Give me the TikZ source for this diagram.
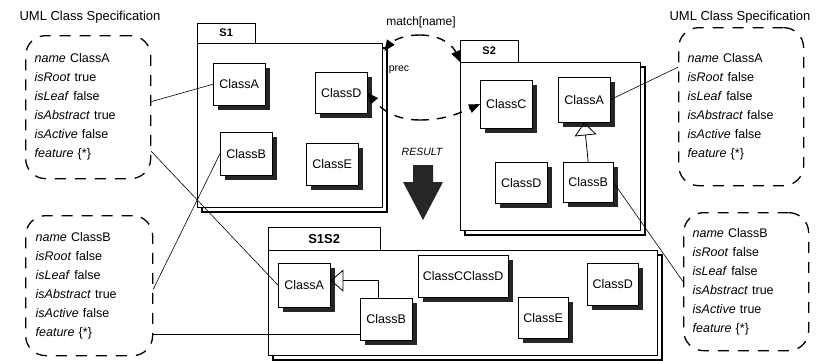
\documentclass[tikz,border=0pt]{standalone}
\usepackage{fontspec}
\setmainfont{Liberation Sans}
\usetikzlibrary{shadows,arrows.meta,calc}

\tikzset{
  cls/.style={draw, fill=white, anchor=north west, inner sep=1pt, minimum width=52pt, minimum height=42pt,
    font=\fontsize{12.5}{14}\selectfont, drop shadow={shadow xshift=5pt, shadow yshift=-5pt, fill=black!85, opacity=1}},
  pkgtab/.style={draw, fill=white, anchor=north west, minimum height=20pt, inner sep=1pt, font=\fontsize{11}{13}\selectfont\bfseries},
  pkgbody/.style={draw, fill=white, anchor=north west,
    general shadow={shadow xshift=5pt, shadow yshift=-5pt, draw=black, line width=1.8pt, fill=white}},
  spec/.style={draw, line width=1.3pt, dash pattern=on 11pt off 9pt, rounded corners=20pt, anchor=north west,
    align=left, text width=107pt, inner xsep=9pt, font=\fontsize{12.5}{19}\selectfont},
  title/.style={font=\fontsize{13}{15}\selectfont},
  link/.style={line width=0.6pt},
  matchline/.style={line width=1.4pt, dash pattern=on 9pt off 8pt, -{Triangle[length=11pt,width=9pt]}},
  inherit/.style={line width=0.8pt, -{Triangle[open, length=13pt, width=22pt, line width=0.8pt]}},
}

\begin{document}
\begin{tikzpicture}[x=1pt, y=-1pt]
    \useasboundingbox (0,0) rectangle (827,360);

    % class specifications
    \node[title] (titleA) at (90,17) {UML Class Specification};
    \node[title] (titleB) at (740,17) {UML Class Specification};
    \node[spec, minimum width=125pt, minimum height=143pt] (specA1) at (25,35)
        {\textit{name} ClassA\\ \textit{isRoot} true\\ \textit{isLeaf} false\\ \textit{isAbstract} true\\ \textit{isActive} false\\ \textit{feature} \{*\}};
    \node[spec, minimum width=127pt, minimum height=140pt] (specB1) at (25,215)
        {\textit{name} ClassB\\ \textit{isRoot} false\\ \textit{isLeaf} false\\ \textit{isAbstract} true\\ \textit{isActive} false\\ \textit{feature} \{*\}};
    \node[spec, minimum width=125pt, minimum height=158pt] (specA2) at (678,27)
        {\textit{name} ClassA\\ \textit{isRoot} false\\ \textit{isLeaf} false\\ \textit{isAbstract} false\\ \textit{isActive} false\\ \textit{feature} \{*\}};
    \node[spec, minimum width=125pt, minimum height=138pt] (specB2) at (683,212)
        {\textit{name} ClassB\\ \textit{isRoot} false\\ \textit{isLeaf} false\\ \textit{isAbstract} true\\ \textit{isActive} true\\ \textit{feature} \{*\}};

    % package S1
    \node[pkgtab, minimum width=58pt] (s1tab) at (197,23) {S1};
    \node[pkgbody, minimum width=185pt, minimum height=164pt] (s1body) at (197,43) {};
    \node[cls] (s1A) at (213,63) {ClassA};
    \node[cls, minimum height=41pt] (s1D) at (315,72) {ClassD};
    \node[cls, minimum height=43pt] (s1B) at (220,132) {ClassB};
    \node[cls] (s1E) at (306,143) {ClassE};

    % package S2
    \node[pkgtab, minimum width=58pt, minimum height=22pt] (s2tab) at (460,40) {S2};
    \node[pkgbody, minimum width=180pt, minimum height=168pt] (s2body) at (460,62) {};
    \node[cls, minimum height=48pt] (s2C) at (480,80) {ClassC};
    \node[cls, minimum height=45pt] (s2A) at (558,77) {ClassA};
    \node[cls, minimum height=41pt] (s2D) at (495,162) {ClassD};
    \node[cls, minimum width=50pt, minimum height=40pt] (s2B) at (563,162) {ClassB};

    % merge of S1 and S2
    \node[font=\fontsize{12}{14}\selectfont] (matchlbl) at (421,22) {match[name]};
    \node[font=\fontsize{10.5}{12}\selectfont] (preclbl) at (399,70) {prec};
    \node[font=\fontsize{10.5}{12}\selectfont\itshape] (resultlbl) at (422,152) {RESULT};
    \fill[black!85] (413,165) -- (433,165) -- (433,182) -- (443,182) -- (423,220) -- (403,182) -- (413,182) -- cycle;

    % package S1S2
    \node[pkgtab, minimum width=112pt, minimum height=23pt, font=\fontsize{13}{15}\selectfont\bfseries] (rtab) at (268,227) {S1S2};
    \node[pkgbody, minimum width=389pt, minimum height=105pt] (rbody) at (268,250) {};
    \node[cls, minimum height=44pt] (rA) at (278,263) {ClassA};
    \node[cls] (rB) at (360,298) {ClassB};
    \node[cls, minimum width=90pt] (rCD) at (418,255) {ClassCClassD};
    \node[cls, minimum width=50pt, minimum height=41pt] (rE) at (518,297) {ClassE};
    \node[cls, minimum width=51pt] (rD) at (587,263) {ClassD};

    % generalisations
    \draw[inherit] (s2B.north) -- (s2A.south);
    \draw[inherit] ($(rB.north west)!0.35!(rB.north east)$) |- (rA.10);

    % match arcs
    \coordinate (mtop) at (420,35);
    \coordinate (mbot) at (420,120);
    \draw[matchline] (mtop) .. controls (396,35) and (388,46) .. ($(s1body.north east)+(2,8)$);
    \draw[matchline] (mtop) .. controls (444,35) and (454,48) .. (s2body.north west);
    \draw[matchline] (mbot) .. controls (396,120) and (382,110) .. (s1D.east);
    \draw[matchline] (mbot) .. controls (446,120) and (462,112) .. (s2C.west);

    % links to specifications
    \draw[link] (specA1.5) -- (s1A.west);
    \draw[link] (specA1.-35) -- (rA.west);
    \draw[link] (specB1.-3) -- (s1B.west);
    \draw[link] (specB1.-37) -- (specB1.-37 -| rB.west);
    \draw[link] (specA2.148) -- (s2A.east);
    \draw[link] (specB2.west) -- (s2B.east);
\end{tikzpicture}
\end{document}
